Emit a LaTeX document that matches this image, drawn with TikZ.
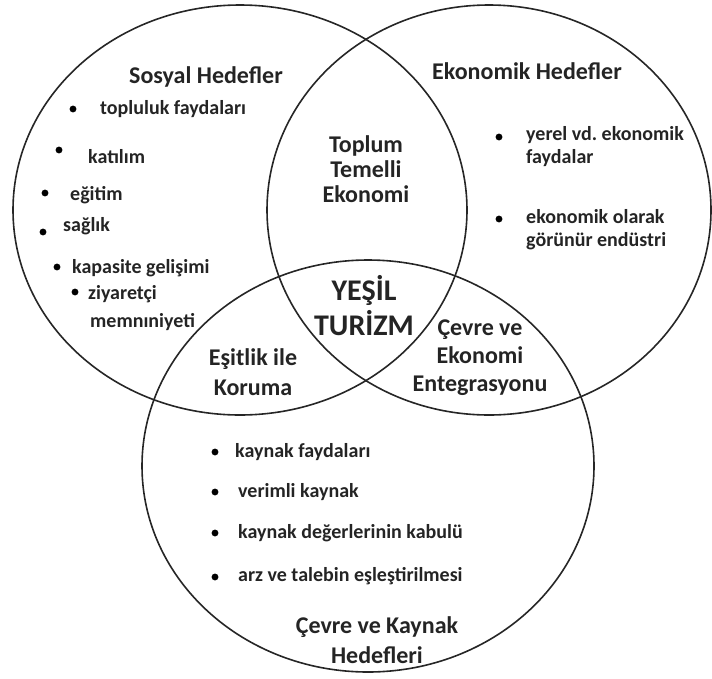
\documentclass[tikz,border=0pt]{standalone}
\usepackage{fontspec}
\setmainfont{Carlito}
\definecolor{ink}{HTML}{242424}
\tikzset{
  baslik/.style={font=\bfseries\fontsize{24}{25}\selectfont, align=center, inner sep=0pt},
  kesisim/.style={font=\bfseries\fontsize{24}{28}\selectfont, align=center, inner sep=0pt},
  madde/.style={font=\bfseries\fontsize{20}{23}\selectfont, anchor=west, align=left, inner sep=0pt},
  halka/.style={line width=1.6pt, draw=black!85}
}
\begin{document}
\begin{tikzpicture}[x=1pt,y=-1pt,text=ink]
\useasboundingbox (0,0) rectangle (712,678);

% uc kume
  \draw[halka] (240,210) ellipse [x radius=227, y radius=205];
  \draw[halka] (489,210) ellipse [x radius=222, y radius=205];
  \draw[halka] (368,466) ellipse [x radius=226, y radius=206];

%sosyal hedefler
  \node[baslik] (sosyal) at (206,77) {Sosyal Hedefler};
  \draw[fill=black] (73,109)circle (3.2pt);
  \draw[fill=black] (59,150)circle (3.2pt);
  \draw[fill=black] (45,193)circle (3.2pt);
  \draw[fill=black] (43,232)circle (3.2pt);
  \draw[fill=black] (57,267)circle (3.2pt);
  \draw[fill=black] (75,292)circle (3.2pt);
  \node[madde] (topluluk) at (100,109) {topluluk faydaları};
  \node[madde] (katilim) at (88,157) {katılım};
  \node[madde] (egitim) at (70,195) {eğitim};
  \node[madde] (saglik) at (63,226) {sağlık};
  \node[madde] (kapasite) at (72,268) {kapasite gelişimi};
  \node[madde,font=\bfseries\fontsize{20}{28}\selectfont] (ziyaretci) at (88,308) {ziyaretçi\\\hspace{2pt}memnıniyeti};

%ekonomik hedefler
  \node[baslik] (ekonomik) at (527,71) {Ekonomik Hedefler};
  \draw[fill=black] (499,137)circle (3.2pt);
  \draw[fill=black] (499,219)circle (3.2pt);
  \node[madde] (yerel) at (526,147) {yerel vd.\ ekonomik\\faydalar};
  \node[madde] (gorunur) at (526,230) {ekonomik olarak\\görünür endüstri};

%cevre ve kaynak hedefleri
  \draw[fill=black] (215,452)circle (3.2pt);
  \draw[fill=black] (215,492)circle (3.2pt);
  \draw[fill=black] (215,533)circle (3.2pt);
  \draw[fill=black] (215,577)circle (3.2pt);
  \node[madde] (kaynak) at (235,452) {kaynak faydaları};
  \node[madde] (verimli) at (238,492) {verimli kaynak};
  \node[madde] (kabul) at (238,533) {kaynak değerlerinin kabulü};
  \node[madde] (arz) at (238,576) {arz ve talebin eşleştirilmesi};
  \node[baslik,font=\bfseries\fontsize{24}{30}\selectfont] (cevre) at (377,640) {Çevre ve Kaynak\\Hedefleri};

%kesisimler
  \node[baslik] (toplum) at (366,169) {Toplum\\Temelli\\Ekonomi};
  \node[kesisim,font=\bfseries\fontsize{24}{30}\selectfont] (esitlik) at (253,372) {Eşitlik ile\\Koruma};
  \node[kesisim] (entegrasyon) at (480,358) {Çevre ve\\Ekonomi\\Entegrasyonu};
  \node[kesisim,font=\bfseries\fontsize{30}{35}\selectfont] (yesil) at (364,306) {YEŞİL\\TURİZM};

\end{tikzpicture}
\end{document}
